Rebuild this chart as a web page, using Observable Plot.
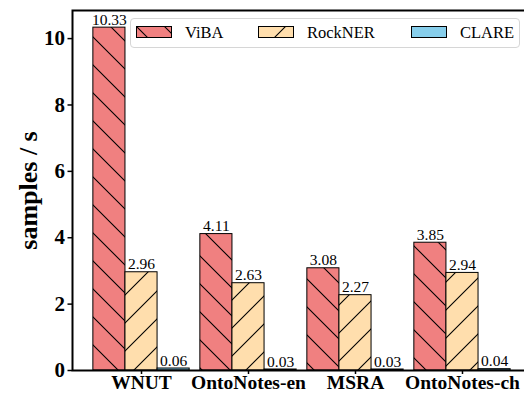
<!DOCTYPE html>
<html><head><meta charset="utf-8">
<script src="https://cdn.jsdelivr.net/npm/d3@7"></script>
<script src="https://cdn.jsdelivr.net/npm/@observablehq/plot@0.6"></script>
<style>
body{margin:0;background:#fff;}
#wrap{position:relative;width:524px;height:394px;overflow:hidden;}
#wrap svg.plot{display:block;}
.legend{position:absolute;left:130px;top:18px;width:390px;height:30px;box-sizing:border-box;border:1px solid #d6d6d6;border-radius:4px;background:rgba(255,255,255,0.85);}
.item{position:absolute;top:0;height:30px;}
.item svg{position:absolute;top:7px;left:0;}
.item span{position:absolute;left:49px;top:3px;font:16.5px "Liberation Serif","Times New Roman",serif;white-space:nowrap;line-height:22px;}
</style></head><body><div id="wrap"></div>
<script>
const datasets = ["WNUT", "OntoNotes-en", "MSRA", "OntoNotes-ch"];
const methods = ["ViBA", "RockNER", "CLARE"];
const viba = [10.33, 4.11, 3.08, 3.85];
const rockner = [2.96, 2.63, 2.27, 2.94];
const clare = [0.06, 0.03, 0.03, 0.04];
const colors = ["#F08080", "#FFDEAD", "#87CEEB"];
const hatches = ["\\", "/", ""];
const yTicks = [0, 2, 4, 6, 8, 10];
const yLabel = "samples / s";

const barWidth = 0.3;
const series = [viba, rockner, clare];
const rows = [];
datasets.forEach((d, i) => methods.forEach((m, j) => rows.push({
  dataset: d, method: m, j, value: series[j][i],
  x1: i + (j - 1.5) * barWidth, x2: i + (j - 0.5) * barWidth, xc: i + (j - 1) * barWidth
})));
const xMin = -1.5 * barWidth, xMax = datasets.length - 1 + 1.5 * barWidth;
const xPad = (xMax - xMin) * 0.05;
const yMax = d3.max(rows, d => d.value) * 1.05;
const serif = '"Liberation Serif","Times New Roman",serif';

function defsFor(svgSel) {
  const defs = svgSel.insert("defs", ":first-child");
  const s = 28;
  methods.forEach((m, j) => {
    const p = defs.append("pattern").attr("id", "hatch" + j + svgSel.attr("data-k"))
      .attr("patternUnits", "userSpaceOnUse").attr("width", s).attr("height", s);
    p.append("rect").attr("width", s).attr("height", s).attr("fill", colors[j]);
    let path = null;
    if (hatches[j] === "\\") path = `M0,0L${s},${s}M-2,${s-2}L2,${s+2}M${s-2},-2L${s+2},2`;
    if (hatches[j] === "/") path = `M0,${s}L${s},0M-2,2L2,-2M${s-2},${s+2}L${s+2},${s-2}`;
    if (path) p.append("path").attr("d", path).attr("stroke", "#000").attr("stroke-width", 1.1).attr("fill", "none");
  });
}

const plot = Plot.plot({
  width: 524, height: 394,
  marginLeft: 72, marginTop: 10, marginBottom: 24, marginRight: -7,
  style: {fontFamily: serif, color: "#000", background: "transparent", overflow: "hidden"},
  x: {type: "linear", domain: [xMin - xPad, xMax + xPad], axis: null},
  y: {domain: [0, yMax], axis: null},
  marks: [
    ...methods.map((m, j) => Plot.rect(rows.filter(d => d.j === j), {
      x1: "x1", x2: "x2", y1: 0, y2: "value",
      fill: `url(#hatch${j}p)`, stroke: "#000", strokeWidth: 1
    })),
    Plot.text(rows, {x: "xc", y: "value", text: d => d.value.toFixed(2), lineAnchor: "bottom", dy: -3, fontSize: 15.5, fontFamily: serif, fill: "#000"}),
    Plot.axisY({ticks: yTicks, tickSize: 4.5, tickPadding: 3, fontSize: 21, fontWeight: "bold", fontFamily: serif, label: null, strokeWidth: 1.5}),
    Plot.axisX({ticks: datasets.map((d, i) => i), tickFormat: i => datasets[i], tickSize: 4, tickPadding: 1, fontSize: 19.5, fontWeight: "bold", fontFamily: serif, label: null, strokeWidth: 1.5}),
    Plot.text([yLabel], {frameAnchor: "left", textAnchor: "middle", rotate: -90, dx: -44, fontSize: 26, fontWeight: "bold", fontFamily: serif, fill: "#000"}),
    Plot.frame({stroke: "#000", strokeWidth: 2})
  ]
});
plot.classList.add("plot");
const wrap = document.getElementById("wrap");
wrap.appendChild(plot);
const ps = d3.select(plot).attr("data-k", "p");
defsFor(ps);

// legend
const leg = document.createElement("div");
leg.className = "legend";
wrap.appendChild(leg);
const itemLeft = [5, 127, 280];
methods.forEach((m, j) => {
  const it = document.createElement("div");
  it.className = "item";
  it.style.left = itemLeft[j] + "px";
  const svg = d3.create("svg").attr("width", 36).attr("height", 13).attr("data-k", "l" + j);
  defsFor(svg);
  svg.append("rect").attr("x", 0.5).attr("y", 0.5).attr("width", 35).attr("height", 11)
    .attr("fill", `url(#hatch${j}l${j})`).attr("stroke", "#000").attr("stroke-width", 1);
  it.appendChild(svg.node());
  const sp = document.createElement("span");
  sp.textContent = m;
  it.appendChild(sp);
  leg.appendChild(it);
});
</script>
</body></html>
